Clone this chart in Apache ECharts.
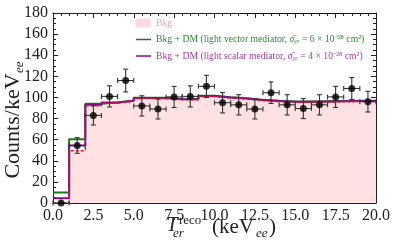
<!DOCTYPE html>
<html><head><meta charset="utf-8">
<script src="https://cdn.jsdelivr.net/npm/echarts@6/dist/echarts.min.js"></script>
<style>html,body{margin:0;padding:0;background:#fff}#c{width:394px;height:251px}</style>
</head><body><div id="c"></div>
<script>
// bin edges (keV_ee)
var binEdges = [0,1,2,3,4,5,6,7,8,9,10,11,12,13,14,15,16,17,18,19,20];
var binCenters = [0.5,1.5,2.5,3.5,4.5,5.5,6.5,7.5,8.5,9.5,10.5,11.5,12.5,13.5,14.5,15.5,16.5,17.5,18.5,19.5];
var bkg = [0, 49.5, 92, 94.5, 96.3, 98.8, 98.8, 97.8, 97.8, 100.7, 99.4, 98.5, 96.9, 96, 95.4, 95.4, 95.6, 95.8, 96, 96];
var vectorDM = [10, 60.5, 94, 95.3, 97.1, 99.6, 99.6, 98.6, 98.6, 101.5, 100.2, 99.3, 97.7, 96.8, 96.2, 96.2, 96.4, 96.6, 96.8, 96.8];
var scalarDM = [4.5, 54.5, 93, 95.1, 96.9, 99.4, 99.4, 98.4, 98.4, 101.3, 100, 99.1, 97.5, 96.6, 96, 96, 96.2, 96.4, 96.6, 96.6];
var observed = [0, 54.5, 83, 101, 116, 92, 89, 100.5, 101, 110.5, 95, 93, 89, 104.5, 93, 89.5, 93, 100.5, 108.5, 96];
var obsErr = [0, 7.4, 9.1, 10, 10.8, 9.6, 9.4, 10, 10, 10.5, 9.7, 9.6, 9.4, 10.2, 9.6, 9.5, 9.6, 10, 10.4, 9.8];
var xTicks = ['0.0','2.5','5.0','7.5','10.0','12.5','15.0','17.5','20.0'];
var yTicks = [0,20,40,60,80,100,120,140,160,180];

function stepData(vals){
  var d = [];
  for (var i=0;i<vals.length;i++) d.push([binEdges[i], vals[i]]);
  d.push([binEdges[vals.length], vals[vals.length-1]]);
  return d;
}
var pointData = binCenters.map(function(x,i){return [x, observed[i], obsErr[i]];});

var FONT = 'Liberation Serif';
var INK = '#222';
var chart = echarts.init(document.getElementById('c'), null, {renderer:'canvas'});
var axisCommon = {
  axisLine:{show:true,onZero:false,lineStyle:{color:INK,width:1}},
  axisTick:{show:true,inside:true,length:5,lineStyle:{color:INK}},
  splitLine:{show:false}
};
var xAx = {type:'value',min:0,max:20,interval:2.5};
var yAx = {type:'value',min:0,max:180,interval:20};
var LS = 9.7;
function rs(color, extra){ return Object.assign({fontFamily:FONT,fontSize:LS,color:color,lineHeight:10}, extra||{}); }
var lineIcon = 'path://M0,0 L20,0 L20,2 L0,2 Z';
function t(txt, x, y, size, italic, align, rot){
  return {type:'text', x:x, y:y, rotation:rot||0,
    style:{text:txt, fontFamily:FONT, fontSize:size, fontStyle:italic?'italic':'normal', fill:INK,
      align:align||'left', verticalAlign:'middle'}};
}
chart.setOption({
  animation:false,
  grid:{left:53,right:18,top:13,bottom:48,containLabel:false,outerBoundsMode:'none'},
  legend:{
    orient:'vertical', left:136, top:18, padding:0, itemWidth:15, itemHeight:9, itemGap:6.5,
    textStyle:{fontFamily:FONT,fontSize:LS,lineHeight:10,padding:[0,0,0,0],
      rich:{
        g:rs('#2f8a2f'), gi:rs('#2f8a2f',{fontStyle:'italic'}),
        gs:rs('#2f8a2f',{fontStyle:'italic',fontSize:6,verticalAlign:'bottom',lineHeight:10}),
        p:rs('#a23ea2'), pi:rs('#a23ea2',{fontStyle:'italic'}),
        ps:rs('#a23ea2',{fontStyle:'italic',fontSize:6,verticalAlign:'bottom',lineHeight:10})
      }},
    formatter:function(n){
      if(n==='Bkg') return n;
      if(n.indexOf('vector')>=0) return '{g|Bkg + DM (light vector mediator, }{gi|σ\u0304}{gs|χe}{g| = 6 × 10⁻²⁸ cm²)}';
      return '{p|Bkg + DM (light scalar mediator, }{pi|σ\u0304}{ps|χe}{p| = 4 × 10⁻²⁸ cm²)}';
    },
    data:[
      {name:'Bkg',icon:'rect',itemStyle:{color:'#ffdadf'},textStyle:{color:'#f2a1a9'}},
      {name:'Bkg + DM (light vector mediator)',icon:lineIcon,itemStyle:{color:'#157a15'}},
      {name:'Bkg + DM (light scalar mediator)',icon:lineIcon,itemStyle:{color:'#7d1387'}}
    ]
  },
  xAxis:[
    Object.assign({}, xAx, axisCommon, {position:'bottom',
      axisLabel:{fontFamily:FONT,fontSize:16,color:INK,margin:5,formatter:function(v){return xTicks[Math.round(v/2.5)];}},
      minorTick:{show:true,splitNumber:5,length:3,lineStyle:{color:INK}}}),
    Object.assign({}, xAx, axisCommon, {position:'top',axisLabel:{show:false},
      minorTick:{show:true,splitNumber:5,length:3,lineStyle:{color:INK}}})
  ],
  yAxis:[
    Object.assign({}, yAx, axisCommon, {position:'left',
      axisLabel:{fontFamily:FONT,fontSize:16,color:INK,margin:5,formatter:function(v){return String(yTicks[Math.round(v/20)]);}},
      minorTick:{show:true,splitNumber:4,length:3,lineStyle:{color:INK}}}),
    Object.assign({}, yAx, axisCommon, {position:'right',axisLabel:{show:false},
      minorTick:{show:true,splitNumber:4,length:3,lineStyle:{color:INK}}})
  ],
  graphic:[
    // x-axis title
    t('T', 172, 226, 20, true, 'center'),
    t('reco', 179, 221, 13, false, 'left'),
    t('er', 173, 234, 13, true, 'left'),
    t('(keV', 212, 227, 21, false, 'left'),
    t('ee', 256, 234, 13, true, 'left'),
    t(')', 269, 227, 21, false, 'left'),
    // y-axis title
    t('Counts/keV', 13, 126, 22, false, 'center', Math.PI/2),
    t('ee', 20, 73, 13, true, 'left', Math.PI/2)
  ],
  series:[
    {name:'Bkg',type:'line',step:'end',data:stepData(bkg),symbol:'none',
     lineStyle:{width:0,color:'#ffdadf'},itemStyle:{color:'#ffdadf'},areaStyle:{color:'#ffe1e4',opacity:1},z:1},
    {name:'Bkg + DM (light vector mediator)',type:'line',step:'end',data:stepData(vectorDM),symbol:'none',
     lineStyle:{width:2,color:'#157a15'},itemStyle:{color:'#157a15'},z:2},
    {name:'Bkg + DM (light scalar mediator)',type:'line',step:'end',data:stepData(scalarDM),symbol:'none',
     lineStyle:{width:2,color:'#7d1387'},itemStyle:{color:'#7d1387'},z:3},
    {name:'bkgline',type:'line',step:'end',data:stepData(bkg),symbol:'none',
     lineStyle:{width:1.3,color:'#f0102a',type:[3,2]},z:4},
    {name:'err',type:'custom',z:5,data:pointData,
     renderItem:function(params,api){
       var x=api.value(0),y=api.value(1),e=api.value(2);
       var l=api.coord([x-0.5,y]), r=api.coord([x+0.5,y]);
       var tp=api.coord([x,y+e]), b=api.coord([x,y-e]);
       var st={stroke:'#333',lineWidth:1.1};
       var cap=2.5, ch=[];
       ch.push({type:'line',shape:{x1:l[0],y1:l[1],x2:r[0],y2:r[1]},style:st});
       ch.push({type:'line',shape:{x1:l[0],y1:l[1]-cap,x2:l[0],y2:l[1]+cap},style:st});
       ch.push({type:'line',shape:{x1:r[0],y1:r[1]-cap,x2:r[0],y2:r[1]+cap},style:st});
       if(e>0){
         ch.push({type:'line',shape:{x1:tp[0],y1:tp[1],x2:b[0],y2:b[1]},style:st});
         ch.push({type:'line',shape:{x1:tp[0]-cap,y1:tp[1],x2:tp[0]+cap,y2:tp[1]},style:st});
         ch.push({type:'line',shape:{x1:b[0]-cap,y1:b[1],x2:b[0]+cap,y2:b[1]},style:st});
       }
       return {type:'group',children:ch};
     }},
    {name:'Data',type:'scatter',z:6,data:pointData.map(function(p){return [p[0],p[1]];}),
     symbol:'circle',symbolSize:7,itemStyle:{color:'#000'}}
  ]
});
</script></body></html>
